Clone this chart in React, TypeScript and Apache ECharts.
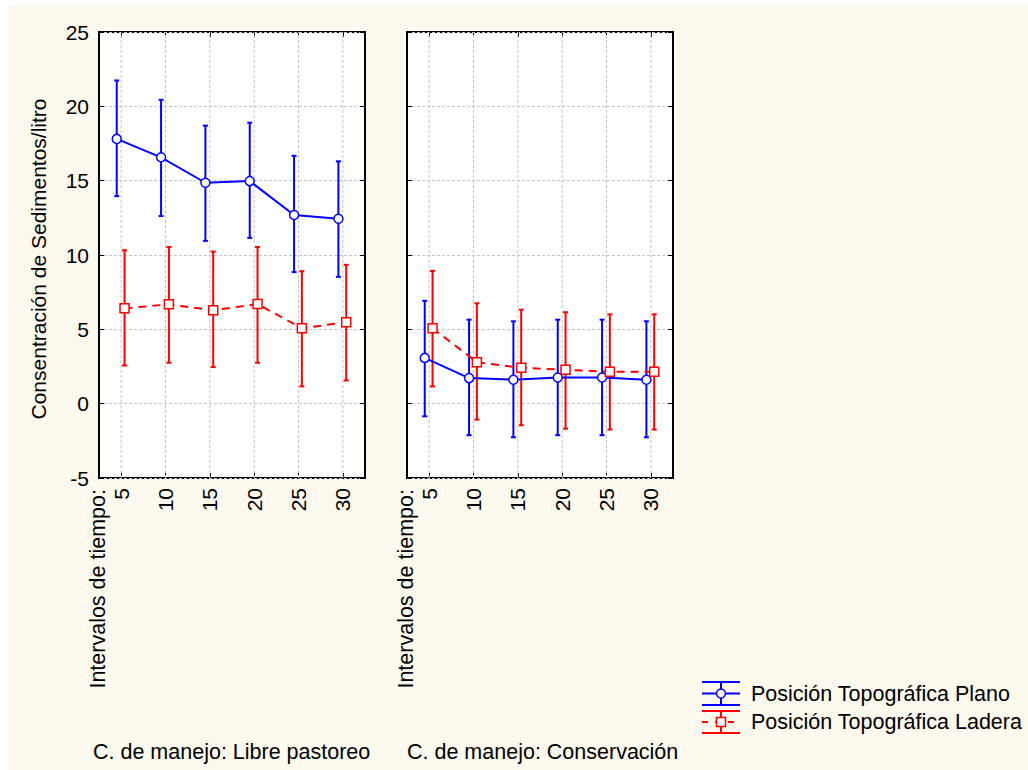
import React, { useEffect, useRef } from "react";
import * as echarts from "echarts";

const categories = ["5", "10", "15", "20", "25", "30"];
const times = [5, 10, 15, 20, 25, 30];
const yTicks = { min: -5, max: 25, step: 5 };

// Libre pastoreo
const planoLibreMean = [17.81, 16.57, 14.86, 14.97, 12.69, 12.44];
const planoLibreLow = [13.96, 12.62, 10.95, 11.15, 8.85, 8.53];
const planoLibreHigh = [21.74, 20.44, 18.7, 18.9, 16.67, 16.3];
const laderaLibreMean = [6.41, 6.68, 6.28, 6.7, 5.07, 5.48];
const laderaLibreLow = [2.57, 2.75, 2.46, 2.75, 1.16, 1.56];
const laderaLibreHigh = [10.32, 10.54, 10.23, 10.54, 8.91, 9.34];

// Conservación
const planoConsMean = [3.08, 1.72, 1.61, 1.76, 1.76, 1.61];
const planoConsLow = [-0.85, -2.12, -2.26, -2.12, -2.12, -2.26];
const planoConsHigh = [6.92, 5.65, 5.54, 5.65, 5.65, 5.54];
const laderaConsMean = [5.07, 2.79, 2.41, 2.28, 2.14, 2.14];
const laderaConsLow = [1.16, -1.07, -1.45, -1.68, -1.74, -1.74];
const laderaConsHigh = [8.93, 6.75, 6.32, 6.15, 6.01, 6.01];

const seriesNames = ["Posición Topográfica Plano", "Posición Topográfica Ladera"];
const panelTitles = ["C. de manejo: Libre pastoreo", "C. de manejo: Conservación"];
const xTitle = "Intervalos de tiempo:";
const yTitle = "Consentración de Sedimentos/litro";

const BLUE = "#0000ff";
const RED = "#ff0000";
const CREAM = "#fdf9ee";
const FONT = "Liberation Sans";
const offPlano = -0.5;
const offLadera = 0.38;

function errData(low: number[], high: number[], off: number) {
  return times.map((t, i) => [t + off, low[i], high[i]]);
}
function lineData(mean: number[], off: number) {
  return times.map((t, i) => [t + off, mean[i]]);
}

function errSeries(data: number[][], color: string, xi: number, yi: number) {
  return {
    type: "custom",
    xAxisIndex: xi,
    yAxisIndex: yi,
    z: 3,
    silent: true,
    encode: { x: 0, y: [1, 2] },
    data,
    renderItem: (params: any, api: any) => {
      const x = api.value(0);
      const lo = api.coord([x, api.value(1)]);
      const hi = api.coord([x, api.value(2)]);
      const c = 2.5;
      const style = { stroke: color, lineWidth: 2 };
      return {
        type: "group",
        children: [
          { type: "line", shape: { x1: lo[0], y1: lo[1], x2: hi[0], y2: hi[1] }, style },
          { type: "line", shape: { x1: lo[0] - c, y1: lo[1], x2: lo[0] + c, y2: lo[1] }, style },
          { type: "line", shape: { x1: hi[0] - c, y1: hi[1], x2: hi[0] + c, y2: hi[1] }, style },
        ],
      };
    },
  };
}

function gridLineSeries(xi: number, yi: number) {
  return {
    type: "custom",
    xAxisIndex: xi,
    yAxisIndex: yi,
    z: 1,
    silent: true,
    encode: { x: 0, y: [1, 2] },
    data: times.map((t) => [t, yTicks.min, yTicks.max]),
    renderItem: (params: any, api: any) => {
      const x = api.value(0);
      const a = api.coord([x, api.value(1)]);
      const b = api.coord([x, api.value(2)]);
      return {
        type: "line",
        shape: { x1: a[0], y1: a[1], x2: b[0], y2: b[1] },
        style: { stroke: "#c4c4c4", lineWidth: 1, lineDash: [3, 2] },
      };
    },
  };
}

function lineSeries(name: string, data: number[][], color: string, dashed: boolean, xi: number, yi: number) {
  return {
    type: "line",
    name,
    xAxisIndex: xi,
    yAxisIndex: yi,
    z: 5,
    data,
    symbol: dashed ? "rect" : "circle",
    symbolSize: 9,
    lineStyle: { color, width: 2, type: dashed ? [8, 6] : "solid" },
    itemStyle: { color: "#fff", borderColor: color, borderWidth: 1.5 },
  };
}

const tickStyle = { color: "#000", width: 1 };

function catAxis(grid: number, pos: "bottom" | "top") {
  return {
    type: "category",
    gridIndex: grid,
    data: categories,
    position: pos,
    boundaryGap: true,
    axisLine: { show: false, onZero: false },
    axisTick: { show: true, inside: true, alignWithLabel: true, length: 5, lineStyle: tickStyle },
    axisLabel:
      pos === "bottom"
        ? { show: true, rotate: 90, fontSize: 21, fontFamily: FONT, color: "#000", margin: 10 }
        : { show: false },
    splitLine: { show: false },
  };
}

function valXAxis(grid: number) {
  return { type: "value", gridIndex: grid, min: 2.5, max: 32.5, show: false, axisLine: { onZero: false } };
}

function yAxis(grid: number, pos: "left" | "right", labels: boolean, split: boolean) {
  return {
    type: "value",
    gridIndex: grid,
    position: pos,
    min: yTicks.min,
    max: yTicks.max,
    interval: yTicks.step,
    axisLine: { show: false, onZero: false },
    axisTick: { show: true, inside: true, length: 5, lineStyle: tickStyle },
    axisLabel: labels
      ? { show: true, fontSize: 21, fontFamily: FONT, color: "#000", margin: 10 }
      : { show: false },
    splitLine: split ? { show: true, lineStyle: { color: "#c4c4c4", width: 1, type: [3, 2] } } : { show: false },
  };
}

function text(x: number, y: number, t: string, opts: any = {}) {
  return {
    type: "text",
    x,
    y,
    rotation: opts.rotation || 0,
    style: {
      text: t,
      fontSize: opts.fontSize || 20,
      fontFamily: opts.fontFamily || FONT,
      fill: "#000",
      align: opts.align || "left",
      verticalAlign: "middle",
    },
  };
}

export default function App() {
  const ref = useRef<HTMLDivElement>(null);
  useEffect(() => {
    if (!ref.current) return;
    const chart = echarts.init(ref.current, null, { renderer: "svg" });
    const gridBase = { top: 32, width: 266, height: 446, show: true, backgroundColor: "#fff", borderColor: "#000", borderWidth: 2, containLabel: false };
    const legend = [
      // Plano
      { type: "line", shape: { x1: 702, y1: 682, x2: 740, y2: 682 }, style: { stroke: BLUE, lineWidth: 2 } },
      { type: "line", shape: { x1: 702, y1: 705, x2: 740, y2: 705 }, style: { stroke: BLUE, lineWidth: 2 } },
      { type: "line", shape: { x1: 702, y1: 693.5, x2: 740, y2: 693.5 }, style: { stroke: BLUE, lineWidth: 2 } },
      { type: "line", shape: { x1: 721, y1: 682, x2: 721, y2: 705 }, style: { stroke: BLUE, lineWidth: 2 } },
      { type: "circle", shape: { cx: 721, cy: 693.5, r: 4.5 }, style: { fill: "#fff", stroke: BLUE, lineWidth: 1.5 } },
      // Ladera
      { type: "line", shape: { x1: 702, y1: 711, x2: 740, y2: 711 }, style: { stroke: RED, lineWidth: 2 } },
      { type: "line", shape: { x1: 702, y1: 733, x2: 740, y2: 733 }, style: { stroke: RED, lineWidth: 2 } },
      { type: "line", shape: { x1: 702, y1: 722, x2: 740, y2: 722 }, style: { stroke: RED, lineWidth: 2, lineDash: [6, 7] } },
      { type: "line", shape: { x1: 721, y1: 711, x2: 721, y2: 733 }, style: { stroke: RED, lineWidth: 2 } },
      { type: "rect", shape: { x: 716.5, y: 717.5, width: 9, height: 9 }, style: { fill: "#fff", stroke: RED, lineWidth: 1.5 } },
      text(751, 694, seriesNames[0], { fontSize: 21.5 }),
      text(751, 722, seriesNames[1], { fontSize: 21.5 }),
    ];
    const option: any = {
      animation: false,
      backgroundColor: "#fff",
      grid: [
        { ...gridBase, left: 99 },
        { ...gridBase, left: 407 },
      ],
      xAxis: [catAxis(0, "bottom"), catAxis(0, "top"), valXAxis(0), catAxis(1, "bottom"), catAxis(1, "top"), valXAxis(1)],
      yAxis: [yAxis(0, "left", true, true), yAxis(0, "right", false, false), yAxis(1, "left", false, true), yAxis(1, "right", false, false)],
      graphic: {
        elements: [
          { type: "rect", z: -10, shape: { x: 8, y: 5, width: 1020, height: 765 }, style: { fill: CREAM } },
          text(38, 259, yTitle, { rotation: Math.PI / 2, align: "center", fontSize: 21 }),
          text(98, 489, xTitle, { rotation: Math.PI / 2, align: "right", fontSize: 21.5 }),
          text(406, 489, xTitle, { rotation: Math.PI / 2, align: "right", fontSize: 21.5 }),
          text(93, 752, panelTitles[0], { fontSize: 21.5 }),
          text(407, 752, panelTitles[1], { fontSize: 21.5 }),
          ...legend,
        ],
      },
      series: [
        gridLineSeries(2, 0),
        gridLineSeries(5, 2),
        errSeries(errData(planoLibreLow, planoLibreHigh, offPlano), BLUE, 2, 0),
        errSeries(errData(laderaLibreLow, laderaLibreHigh, offLadera), RED, 2, 0),
        lineSeries(seriesNames[0], lineData(planoLibreMean, offPlano), BLUE, false, 2, 0),
        lineSeries(seriesNames[1], lineData(laderaLibreMean, offLadera), RED, true, 2, 0),
        errSeries(errData(planoConsLow, planoConsHigh, offPlano), BLUE, 5, 2),
        errSeries(errData(laderaConsLow, laderaConsHigh, offLadera), RED, 5, 2),
        lineSeries(seriesNames[0], lineData(planoConsMean, offPlano), BLUE, false, 5, 2),
        lineSeries(seriesNames[1], lineData(laderaConsMean, offLadera), RED, true, 5, 2),
      ],
    };
    chart.setOption(option);
    return () => chart.dispose();
  }, []);
  return <div ref={ref} style={{ position: "fixed", left: 0, top: 0, width: 1028, height: 770 }} />;
}
